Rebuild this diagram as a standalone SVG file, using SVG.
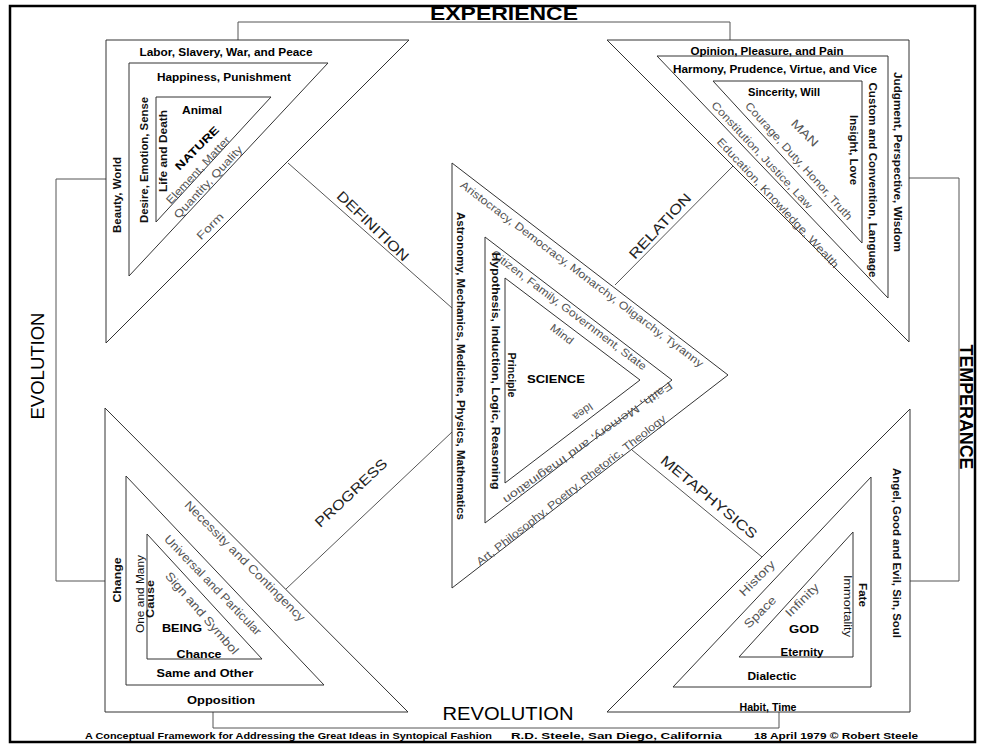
<svg xmlns="http://www.w3.org/2000/svg" width="982" height="744" viewBox="0 0 982 744">
<style>
.tri{fill:none;stroke:#333;stroke-width:1}
.conn{fill:none;stroke:#555;stroke-width:1}
text{font-family:"Liberation Sans",Arial,sans-serif;text-anchor:middle}
.b{font-size:11px;font-weight:bold;fill:#000}
.v{font-size:10px;font-weight:bold;fill:#111}
.vr{font-size:10px;fill:#111}
.g{font-size:11px;fill:#555}
.gl{font-size:12px;fill:#555}
.c{font-size:14px;fill:#222}
.big{font-size:18px;fill:#000}
.cap{font-size:8.5px;font-weight:bold;fill:#000;text-anchor:start}
</style>
<rect x="0" y="0" width="982" height="744" fill="#fff"/>

<g id="connectors">
<polyline class="conn" points="238,40 238,22 730,22 730,40"/>
<polyline class="conn" points="106,179 56,179 56,581 105,581"/>
<polyline class="conn" points="909,178 959,178 959,581 910,581"/>
<polyline class="conn" points="213,712 213,728 779,728 779,712"/>
<line class="conn" x1="288" y1="163" x2="452" y2="308"/>
<line class="conn" x1="615" y1="285" x2="733" y2="166"/>
<line class="conn" x1="286" y1="589" x2="452" y2="432"/>
<line class="conn" x1="632" y1="450" x2="762" y2="557"/>
<text class="big" x="504" y="20" font-weight="bold" textLength="148" lengthAdjust="spacingAndGlyphs">EXPERIENCE</text>
<text class="big" transform="translate(38 366) rotate(-90)" dy="0.35em" textLength="107" lengthAdjust="spacingAndGlyphs">EVOLUTION</text>
<text class="big" transform="translate(966 407) rotate(90)" dy="0.35em" font-weight="bold" textLength="125" lengthAdjust="spacingAndGlyphs">TEMPERANCE</text>
<text class="big" x="508" y="720" font-size="20" textLength="131" lengthAdjust="spacingAndGlyphs">REVOLUTION</text>
<text class="c" transform="translate(373 226) rotate(44)" dy="0.35em" textLength="94" lengthAdjust="spacingAndGlyphs">DEFINITION</text>
<text class="c" transform="translate(660 226) rotate(-47)" dy="0.35em" textLength="84" lengthAdjust="spacingAndGlyphs">RELATION</text>
<text class="c" transform="translate(351 493) rotate(-43)" dy="0.35em" textLength="93" lengthAdjust="spacingAndGlyphs">PROGRESS</text>
<text class="c" transform="translate(709 497) rotate(40)" dy="0.35em" textLength="121" lengthAdjust="spacingAndGlyphs">METAPHYSICS</text>
</g>

<g id="nature">
<polygon class="tri" points="106,40 409,40 106,343"/>
<polygon class="tri" points="129,63 328,63 129,276"/>
<polygon class="tri" points="156,97 271,97 156,222"/>
<text class="b" x="226" y="56" textLength="173" lengthAdjust="spacingAndGlyphs">Labor, Slavery, War, and Peace</text>
<text class="b" x="224" y="81" textLength="134" lengthAdjust="spacingAndGlyphs">Happiness, Punishment</text>
<text class="b" x="202" y="114" textLength="40" lengthAdjust="spacingAndGlyphs">Animal</text>
<text class="v" transform="translate(117 195) rotate(-90)" dy="0.35em" textLength="76" lengthAdjust="spacingAndGlyphs">Beauty, World</text>
<text class="v" transform="translate(144 160) rotate(-90)" dy="0.35em" textLength="126" lengthAdjust="spacingAndGlyphs">Desire, Emotion, Sense</text>
<text class="v" transform="translate(163 151) rotate(-90)" dy="0.35em" textLength="82" lengthAdjust="spacingAndGlyphs">Life and Death</text>
<text class="b" font-size="12" transform="translate(197 148) rotate(-45)" dy="0.35em" textLength="57" lengthAdjust="spacingAndGlyphs">NATURE</text>
<text class="g" transform="translate(198 170) rotate(-47)" dy="0.35em" textLength="88" lengthAdjust="spacingAndGlyphs">Element, Matter</text>
<text class="g" transform="translate(208 182) rotate(-47)" dy="0.35em" textLength="95" lengthAdjust="spacingAndGlyphs">Quantity, Quality</text>
<text class="g" transform="translate(210 226) rotate(-45)" dy="0.35em" textLength="33" lengthAdjust="spacingAndGlyphs">Form</text>
</g>

<g id="man">
<polygon class="tri" points="607,40 909,40 909,342"/>
<polygon class="tri" points="657,56 888,56 888,298"/>
<polygon class="tri" points="713,81 862,81 862,243"/>
<text class="b" x="767" y="55" textLength="153" lengthAdjust="spacingAndGlyphs">Opinion, Pleasure, and Pain</text>
<text class="b" x="775" y="73" textLength="204" lengthAdjust="spacingAndGlyphs">Harmony, Prudence, Virtue, and Vice</text>
<text class="b" x="784" y="96" textLength="72" lengthAdjust="spacingAndGlyphs">Sincerity, Will</text>
<text class="v" transform="translate(897.5 162) rotate(90)" dy="0.35em" textLength="180" lengthAdjust="spacingAndGlyphs">Judgment, Perspective, Wisdom</text>
<text class="v" transform="translate(872.5 180) rotate(90)" dy="0.35em" textLength="195" lengthAdjust="spacingAndGlyphs">Custom and Convention, Language</text>
<text class="v" transform="translate(853 150) rotate(90)" dy="0.35em" textLength="70" lengthAdjust="spacingAndGlyphs">Insight, Love</text>
<text class="gl" transform="translate(805 133) rotate(45)" dy="0.35em" textLength="33" lengthAdjust="spacingAndGlyphs">MAN</text>
<text class="g" transform="translate(799 161) rotate(48)" dy="0.35em" textLength="154" lengthAdjust="spacingAndGlyphs">Courage, Duty, Honor, Truth</text>
<text class="g" transform="translate(762 155) rotate(47)" dy="0.35em" textLength="142" lengthAdjust="spacingAndGlyphs">Constitution, Justice, Law</text>
<text class="g" transform="translate(778 203) rotate(47)" dy="0.35em" textLength="173" lengthAdjust="spacingAndGlyphs">Education, Knowledge, Wealth</text>
</g>

<g id="science">
<polygon class="tri" points="452,163 728,375 452,588"/>
<polygon class="tri" points="485,237 672,380 485,523"/>
<polygon class="tri" points="505,278 640,380 505,483"/>
<text class="g" transform="translate(582 274) rotate(37)" dy="0.35em" textLength="301" lengthAdjust="spacingAndGlyphs">Aristocracy, Democracy, Monarchy, Oligarchy, Tyranny</text>
<text class="g" transform="translate(569 310) rotate(37)" dy="0.35em" textLength="191" lengthAdjust="spacingAndGlyphs">Citizen, Family, Government, State</text>
<text class="g" transform="translate(562 334) rotate(37)" dy="0.35em" textLength="26" lengthAdjust="spacingAndGlyphs">Mind</text>
<text class="v" transform="translate(511 375) rotate(90)" dy="0.35em" textLength="45" lengthAdjust="spacingAndGlyphs">Principle</text>
<text class="v" transform="translate(495 371) rotate(90)" dy="0.35em" textLength="237" lengthAdjust="spacingAndGlyphs">Hypothesis, Induction, Logic, Reasoning</text>
<text class="v" transform="translate(460.5 366) rotate(90)" dy="0.35em" textLength="308" lengthAdjust="spacingAndGlyphs">Astronomy, Mechanics, Medicine, Physics, Mathematics</text>
<text class="b" font-size="12" x="556" y="383" textLength="58" lengthAdjust="spacingAndGlyphs">SCIENCE</text>
<text class="g" transform="translate(588 443) rotate(145)" dy="0.35em" textLength="204" lengthAdjust="spacingAndGlyphs">Faith, Memory, and Imagination</text>
<text class="g" transform="translate(583 412) rotate(145)" dy="0.35em" textLength="22" lengthAdjust="spacingAndGlyphs">Idea</text>
<text class="g" transform="translate(571 490) rotate(-38)" dy="0.35em" textLength="237" lengthAdjust="spacingAndGlyphs">Art, Philosophy, Poetry, Rhetoric, Theology</text>
</g>

<g id="being">
<polygon class="tri" points="105,408 105,712 408,712"/>
<polygon class="tri" points="126,476 126,685 324,685"/>
<polygon class="tri" points="147,534 147,659 262,659"/>
<text class="v" transform="translate(117.5 580) rotate(-90)" dy="0.35em" textLength="45" lengthAdjust="spacingAndGlyphs">Change</text>
<text class="vr" transform="translate(140 594) rotate(-90)" dy="0.35em" textLength="78" lengthAdjust="spacingAndGlyphs">One and Many</text>
<text class="v" transform="translate(150.5 599) rotate(-90)" dy="0.35em" textLength="38" lengthAdjust="spacingAndGlyphs">Cause</text>
<text class="b" x="182" y="632" textLength="40" lengthAdjust="spacingAndGlyphs">BEING</text>
<text class="b" x="199" y="658" textLength="45" lengthAdjust="spacingAndGlyphs">Chance</text>
<text class="b" x="205" y="677" textLength="97" lengthAdjust="spacingAndGlyphs">Same and Other</text>
<text class="b" x="221" y="704" textLength="68" lengthAdjust="spacingAndGlyphs">Opposition</text>
<text class="gl" transform="translate(245 561) rotate(45)" dy="0.35em" textLength="165" lengthAdjust="spacingAndGlyphs">Necessity and Contingency</text>
<text class="gl" transform="translate(213 585) rotate(46)" dy="0.35em" textLength="134" lengthAdjust="spacingAndGlyphs">Universal and Particular</text>
<text class="gl" transform="translate(202 613) rotate(49)" dy="0.35em" textLength="105" lengthAdjust="spacingAndGlyphs">Sign and Symbol</text>
</g>

<g id="god">
<polygon class="tri" points="910,409 910,712 607,712"/>
<polygon class="tri" points="871,477 871,687 673,687"/>
<polygon class="tri" points="853,532 853,657 739,657"/>
<text class="v" transform="translate(896 553) rotate(90)" dy="0.35em" textLength="170" lengthAdjust="spacingAndGlyphs">Angel, Good and Evil, Sin, Soul</text>
<text class="v" transform="translate(862.5 595) rotate(90)" dy="0.35em" textLength="24" lengthAdjust="spacingAndGlyphs">Fate</text>
<text class="vr" transform="translate(847.5 606) rotate(90)" dy="0.35em" textLength="62" lengthAdjust="spacingAndGlyphs">Immortality</text>
<text class="b" font-size="12" x="804" y="633" textLength="30" lengthAdjust="spacingAndGlyphs">GOD</text>
<text class="b" x="802" y="656" textLength="43" lengthAdjust="spacingAndGlyphs">Eternity</text>
<text class="b" x="772" y="680" textLength="49" lengthAdjust="spacingAndGlyphs">Dialectic</text>
<text class="b" x="768" y="711" textLength="57" lengthAdjust="spacingAndGlyphs">Habit, Time</text>
<text class="gl" transform="translate(757 578) rotate(-45)" dy="0.35em" textLength="45" lengthAdjust="spacingAndGlyphs">History</text>
<text class="gl" transform="translate(760 612) rotate(-45)" dy="0.35em" textLength="40" lengthAdjust="spacingAndGlyphs">Space</text>
<text class="gl" transform="translate(802 600) rotate(-45)" dy="0.35em" textLength="42" lengthAdjust="spacingAndGlyphs">Infinity</text>
</g>

<g id="caption">
<text class="cap" x="85" y="739" textLength="407" lengthAdjust="spacingAndGlyphs">A Conceptual Framework for Addressing the Great Ideas in Syntopical Fashion</text>
<text class="cap" x="511" y="739" textLength="211" lengthAdjust="spacingAndGlyphs">R.D. Steele, San Diego, California</text>
<text class="cap" x="754" y="739" textLength="164" lengthAdjust="spacingAndGlyphs">18 April 1979 © Robert Steele</text>
</g>

<rect id="frame" x="10" y="6" width="965" height="736" fill="none" stroke="#000" stroke-width="2.5"/>
</svg>
